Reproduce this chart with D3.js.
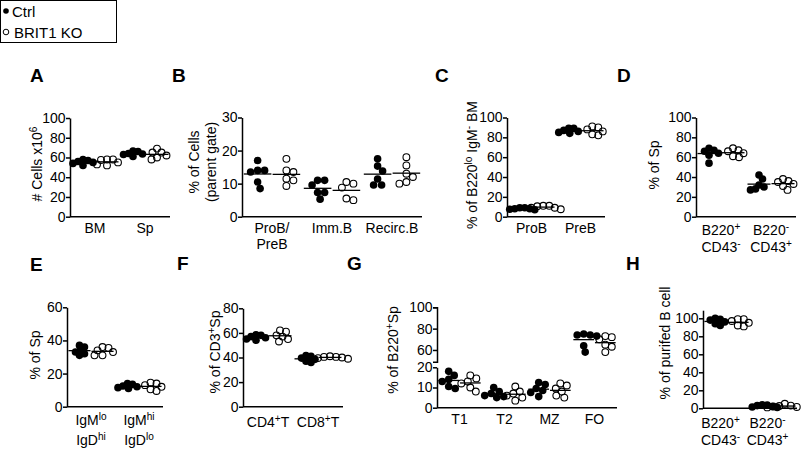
<!DOCTYPE html>
<html>
<head>
<meta charset="utf-8">
<script src="https://cdn.jsdelivr.net/npm/d3@7"></script>
<style>
  body { margin: 0; background: #fff; }
  svg text { font-family: "Liberation Sans", Arial, sans-serif; fill: #000; }
</style>
</head>
<body>
<svg id="chart" width="802" height="450"></svg>
<script>
// ---- data ----
const legendLabels = ['Ctrl', 'BRIT1 KO'];

const ticks100 = [0, 20, 40, 60, 80, 100];
const ticksB = [0, 10, 20, 30];
const ticksE = [0, 20, 40, 60];
const ticksF = [0, 20, 40, 60, 80];
const ticksGlow = [0, 10, 20];
const ticksGhigh = [60, 80, 100];

const catsA = ['BM', 'Sp'];
const ctrlA = [[57, 58, 55, 54, 52, 56], [66, 66.5, 64, 63.5, 63, 61]];
const koA = [[58, 57.5, 58, 55, 53, 52], [69, 65, 65, 62, 60, 58]];
const titleA = ['# Cells x10^{6}'];

const catsB = ['ProB/\nPreB', 'Imm.B', 'Recirc.B'];
const ctrlB = [[17, 14, 13.5, 14, 10.5, 8.5], [11, 11, 9.6, 7.3, 7.3, 5.3], [17.5, 15.3, 13.8, 11.4, 9.6, 9.6]];
const koB = [[17.5, 14, 13.5, 11.5, 11, 9.3], [10.5, 10, 8.8, 5, 5.5], [18, 15.5, 13, 12, 10, 10.5]];
const titleB = ['% of Cells', '(parent gate)'];

const catsC = ['ProB', 'PreB'];
const ctrlC = [[9, 9, 8, 8, 7, 7.5], [89, 89, 87, 86, 85, 84]];
const koC = [[11, 11, 10.5, 9, 7.5, 9], [91, 90, 88, 86, 83, 82]];
const titleC = ['% of B220^{lo} IgM^{-} BM'];

const catsD = ['B220^{+}\nCD43^{-}', 'B220^{-}\nCD43^{+}'];
const ctrlD = [[69, 67, 66, 64, 62, 54], [42, 38, 32, 30, 28, 27]];
const koD = [[69, 67, 66, 64, 61, 60], [38, 36, 35, 33, 31, 27]];
const titleD = ['% of Sp'];

const catsE = ['IgM^{lo}\nIgD^{hi}', 'IgM^{hi}\nIgD^{lo}'];
const ctrlE = [[37, 36, 34, 33, 32, 31], [14, 13.5, 12.5, 12, 11.5, 11]];
const koE = [[36, 35.5, 34, 33, 31, 31], [14.5, 14, 13, 12, 10.5, 9.5]];
const titleE = ['% of Sp'];

const catsF = ['CD4^{+}T', 'CD8^{+}T'];
const ctrlF = [[58, 58.5, 57, 56, 55, 54], [41, 41.5, 39.5, 38.5, 37, 36]];
const koF = [[62, 61, 58, 57, 55, 53], [41, 40.5, 40, 39.5, 39, 40.5]];
const titleF = ['% of CD3^{+}Sp'];

const catsG = ['T1', 'T2', 'MZ', 'FO'];
const ctrlG = [[18, 16, 14, 13, 10.5, 9.5], [10, 8, 7, 6, 5.5, 5], [12.5, 11.5, 9.5, 8.5, 7.5, 5.5], [75, 74, 74, 73, 64, 58]];
const koG = [[16, 14.5, 13, 12, 10, 8], [10.5, 8, 7, 6, 5, 3.5], [12, 11, 9.5, 8, 6, 5], [73, 72, 70, 65, 63, 58]];
const titleG = ['% of B220^{+}Sp'];

const catsH = ['B220^{+}\nCD43^{-}', 'B220^{-}\nCD43^{+}'];
const ctrlH = [[100, 99, 98, 96, 94, 92], [4, 3.5, 3, 2, 1.5, 1]];
const koH = [[99, 99, 97, 95, 92, 91], [5, 3, 2.5, 2, 1.5, 1]];
const titleH = ['% of purifed B cell'];

// ---- layout ----
const panels = [
  { letter: 'A', lx: 30, ly: 82, cats: catsA, ctrl: ctrlA, ko: koA, ticks: ticks100, max: 100,
    x0: 70, x1: 170, yb: 216.7, yt: 118, title: titleA, tx: 42, ty: 164, labY: 232.5, lh: 16 },
  { letter: 'B', lx: 172, ly: 82, cats: catsB, ctrl: ctrlB, ko: koB, ticks: ticksB, max: 30,
    x0: 242, x1: 422, yb: 216.7, yt: 117.5, title: titleB, tx: 199, ty: 162, labY: 232.5, lh: 16, gap: [7, 7] },
  { letter: 'C', lx: 435, ly: 82, cats: catsC, ctrl: ctrlC, ko: koC, ticks: ticks100, max: 100,
    x0: 507, x1: 605, yb: 216.7, yt: 117.5, title: titleC, tx: 477, ty: 165, labY: 232.5, lh: 16 },
  { letter: 'D', lx: 617, ly: 82, cats: catsD, ctrl: ctrlD, ko: koD, ticks: ticks100, max: 100,
    x0: 696, x1: 796, yb: 216.7, yt: 117.5, title: titleD, tx: 659, ty: 165, labY: 235, lh: 17 },
  { letter: 'E', lx: 30, ly: 271, cats: catsE, ctrl: ctrlE, ko: koE, ticks: ticksE, max: 60,
    x0: 67, x1: 163, yb: 406.7, yt: 307.3, title: titleE, tx: 40, ty: 355, labY: 425, lh: 20 },
  { letter: 'F', lx: 177, ly: 270, cats: catsF, ctrl: ctrlF, ko: koF, ticks: ticksF, max: 80,
    x0: 243, x1: 343, yb: 406.7, yt: 308.3, title: titleF, tx: 220, ty: 352, labY: 427, lh: 17 },
  { letter: 'G', lx: 347, ly: 270, cats: catsG, ctrl: ctrlG, ko: koG, broken: true,
    x0: 437, x1: 617, yb: 407.7, yt: 307.3, title: titleG, tx: 398, ty: 350, labY: 423.5, lh: 17, gap: [6.5, 6.5] },
  { letter: 'H', lx: 626, ly: 270, cats: catsH, ctrl: ctrlH, ko: koH, ticks: ticks100, max: 109,
    x0: 703, x1: 797, yb: 408.3, yt: 310.2, title: titleH, tx: 670, ty: 343, labY: 428, lh: 17, labDx: -6 }
];

const svg = d3.select('#chart');

// text with ^{..} superscripts
function rich(text, str, size) {
  const parts = str.split(/(\^\{[^}]*\})/).filter(s => s.length);
  let up = false;
  parts.forEach(s => {
    const sup = s.startsWith('^{');
    const t = text.append('tspan').text(sup ? s.slice(2, -1) : s);
    if (sup) {
      t.attr('font-size', size * 0.72).attr('dy', -size * 0.38);
      up = true;
    } else if (up) {
      t.attr('dy', size * 0.38);
      up = false;
    }
  });
}

// simple beeswarm offsets
function swarm(vals, yf, cx, d) {
  const pts = vals.map(v => ({ v: v, y: yf(v) })).sort((a, b) => a.y - b.y);
  const placed = [];
  pts.forEach(p => {
    for (let k = 0; k < 400; k++) {
      const dx = (k % 2 ? 1 : -1) * Math.ceil(k / 2) * 0.5;
      if (placed.every(q => (q.dx - dx) ** 2 + (q.y - p.y) ** 2 >= d * d)) { p.dx = dx; break; }
    }
    placed.push(p);
  });
  return pts.map(p => ({ v: p.v, y: p.y, x: cx + p.dx }));
}

function styleAxis(g) {
  g.select('.domain').attr('stroke-width', 1.5);
  g.selectAll('.tick line').attr('stroke-width', 1.5);
  g.selectAll('.tick text').attr('font-size', 14);
  g.attr('font-family', null);
}

panels.forEach(p => {
  const g = svg.append('g');
  const gap = p.gap || [5, 5.8];
  let yf;

  if (p.broken) {
    const yLow = d3.scaleLinear().domain([0, 20]).range([p.yb, 367.3]);
    const yHigh = d3.scaleLinear().domain([49, 100]).range([361.7, p.yt]);
    yf = v => (v > 30 ? yHigh(v) : yLow(v));
    g.append('g').attr('transform', `translate(${p.x0},0)`)
      .call(d3.axisLeft(yLow).tickValues(ticksGlow).tickSize(4).tickSizeOuter(0).tickPadding(0.5))
      .call(styleAxis);
    g.append('g').attr('transform', `translate(${p.x0},0)`)
      .call(d3.axisLeft(yHigh).tickValues(ticksGhigh).tickSize(4).tickSizeOuter(4).tickPadding(0.5))
      .call(styleAxis);
  } else {
    const y = d3.scaleLinear().domain([0, p.max]).range([p.yb, p.yt]);
    yf = y;
    g.append('g').attr('transform', `translate(${p.x0},0)`)
      .call(d3.axisLeft(y).tickValues(p.ticks).tickSize(4).tickSizeOuter(0).tickPadding(0.5))
      .call(styleAxis);
  }

  // x axis line
  g.append('line')
    .attr('x1', p.x0).attr('x2', p.x1)
    .attr('y1', yf(0)).attr('y2', yf(0))
    .attr('stroke', '#000').attr('stroke-width', 1.5);

  const x = d3.scaleBand().domain(p.cats).range([p.x0, p.x1]);
  const bw = x.bandwidth();
  const off = bw * 0.24;
  const half = bw * 0.23;

  p.cats.forEach((c, i) => {
    const cx = x(c) + bw / 2;

    // category label (may be two lines)
    c.split('\n').forEach((line, j) => {
      const t = g.append('text')
        .attr('x', cx + (p.labDx || 0)).attr('y', p.labY + j * p.lh)
        .attr('text-anchor', 'middle').attr('font-size', 14);
      rich(t, line, 14);
    });

    [[p.ctrl[i], -off, true], [p.ko[i], off, false]].forEach(([vals, o, filled]) => {
      const pts = swarm(vals, yf, cx + o, filled ? gap[0] : gap[1]);
      g.selectAll(null).data(pts).enter().append('circle')
        .attr('cx', d => d.x).attr('cy', d => d.y)
        .attr('r', filled ? 3.8 : 3.4)
        .attr('fill', filled ? '#000' : 'none')
        .attr('stroke', '#000').attr('stroke-width', filled ? 0 : 1.1);
      const m = yf(d3.mean(vals));
      g.append('line')
        .attr('x1', cx + o - half).attr('x2', cx + o + half)
        .attr('y1', m).attr('y2', m)
        .attr('stroke', '#000').attr('stroke-width', 1.3);
    });
  });

  // y title (rotated)
  p.title.forEach((line, j) => {
    const t = g.append('text')
      .attr('transform', `translate(${p.tx + j * 17},${p.ty}) rotate(-90)`)
      .attr('text-anchor', 'middle').attr('font-size', 14);
    rich(t, line, 14);
  });

  // panel letter
  g.append('text').attr('x', p.lx).attr('y', p.ly)
    .attr('font-size', 19).attr('font-weight', 'bold').text(p.letter);
});

// legend
const lg = svg.append('g');
lg.append('rect').attr('x', 0.5).attr('y', 0.5).attr('width', 116).attr('height', 42)
  .attr('fill', 'none').attr('stroke', '#000').attr('stroke-width', 1);
legendLabels.forEach((lab, i) => {
  lg.append('circle').attr('cx', 6).attr('cy', 11 + i * 21).attr('r', 2.8)
    .attr('fill', i === 0 ? '#000' : '#fff').attr('stroke', '#000').attr('stroke-width', i === 0 ? 0 : 1);
  lg.append('text').attr('x', i === 0 ? 12 : 14).attr('y', 17 + i * 20.5)
    .attr('font-size', 15).text(lab);
});
</script>
</body>
</html>
